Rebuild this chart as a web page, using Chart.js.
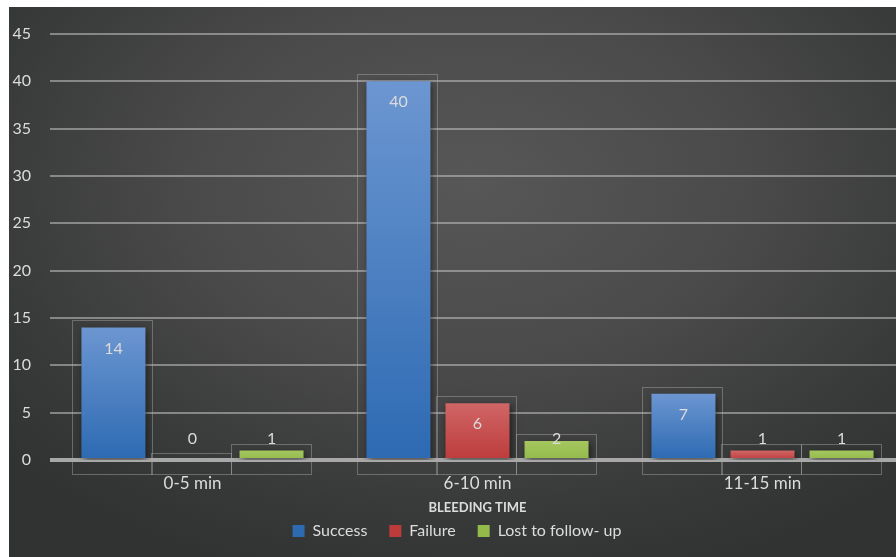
<!DOCTYPE html>
<html>
<head>
<meta charset="utf-8">
<script src="https://cdn.jsdelivr.net/npm/chart.js@4.4.0/dist/chart.umd.min.js"></script>
<style>
  html, body { margin: 0; padding: 0; background: #fff; overflow: hidden; width: 896px; height: 557px; }
  #fundo {
    position: absolute; left: 9px; top: 7px; width: 887px; height: 550px; overflow: hidden;
    background: radial-gradient(ellipse 70% 75% at 52% 32%, #575757 0%, #4a4a4a 45%, #383939 80%, #313232 100%);
  }
  #wrap { position: absolute; left: 0; top: 0; width: 896px; height: 550px; }
</style>
</head>
<body>
<div id="fundo">
  <div id="wrap"><canvas id="grafico"></canvas></div>
</div>
<script>
// dados
const categorias = ['0-5 min', '6-10 min', '11-15 min'];
const sucesso = [14, 40, 7];
const falha = [0, 6, 1];
const perdidos = [1, 2, 1];
const ticksY = [0, 5, 10, 15, 20, 25, 30, 35, 40, 45];

const FONTE = "Lato, 'Open Sans', sans-serif";
const TEXTO = '#dcdcdc';

// gradiente vertical por barra (claro em cima, escuro embaixo)
function gradiente(topo, base) {
  return ctx => {
    const chart = ctx.chart;
    const y = chart.scales && chart.scales.y;
    if (!chart.chartArea || !y || ctx.raw === undefined) return base;
    const yTopo = y.getPixelForValue(ctx.raw);
    const yBase = y.getPixelForValue(0);
    if (Math.abs(yBase - yTopo) < 1) return base;
    const g = chart.ctx.createLinearGradient(0, yTopo, 0, yBase);
    g.addColorStop(0, topo);
    g.addColorStop(1, base);
    return g;
  };
}

// sombra das barras
const sombra = {
  id: 'sombra',
  beforeDatasetsDraw(chart) {
    const c = chart.ctx;
    c.save();
    c.shadowColor = 'rgba(0,0,0,0.55)';
    c.shadowBlur = 7;
    c.shadowOffsetX = 2;
    c.shadowOffsetY = 3;
  },
  afterDatasetsDraw(chart) {
    chart.ctx.restore();
  }
};

// caixinhas de seleção + rótulos de valor
const rotulos = {
  id: 'rotulos',
  afterDatasetsDraw(chart) {
    const c = chart.ctx;
    const base = chart.scales.y.getPixelForValue(0);
    c.save();
    chart.data.datasets.forEach((ds, i) => {
      chart.getDatasetMeta(i).data.forEach((bar, j) => {
        const w = bar.width;
        c.strokeStyle = 'rgba(170,170,170,0.45)';
        c.lineWidth = 1;
        c.strokeRect(Math.round(bar.x - w / 2 - 9) + 0.5, Math.round(bar.y - 7) + 0.5,
                     Math.round(w + 16), Math.round(base + 14 - (bar.y - 7)));
        c.fillStyle = TEXTO;
        c.font = '16px ' + FONTE;
        c.textAlign = 'center';
        c.textBaseline = 'middle';
        const yTxt = Math.min(bar.y + 21, base - 21);
        c.fillText(String(ds.data[j]), bar.x, yTxt);
      });
    });
    c.restore();
  }
};

new Chart(document.getElementById('grafico'), {
  type: 'bar',
  data: {
    labels: categorias,
    datasets: [
      { label: 'Success', data: sucesso, backgroundColor: gradiente('#6c96d1', '#2d6ab2') },
      { label: 'Failure', data: falha, backgroundColor: gradiente('#d06666', '#bd3b3b') },
      { label: 'Lost to follow- up', data: perdidos, backgroundColor: gradiente('#a4c75f', '#93ba4b') }
    ]
  },
  options: {
    responsive: true,
    maintainAspectRatio: false,
    animation: false,
    layout: { padding: { top: 27, right: 0, left: 0, bottom: 8 } },
    datasets: { bar: { categoryPercentage: 0.832, barPercentage: 0.81, borderWidth: 0 } },
    scales: {
      x: {
        afterFit: s => { s.height = 41; },
        grid: { display: false, drawTicks: false },
        border: { display: false },
        ticks: { color: TEXTO, font: { family: FONTE, size: 17 }, padding: 13 },
        title: { display: true, text: 'BLEEDING TIME', color: TEXTO, font: { family: FONTE, size: 13, weight: 'bold' }, padding: { top: 0, bottom: -15 } }
      },
      y: {
        min: 0, max: 45,
        afterFit: s => { s.width = 41; s.paddingTop = 0; },
        afterBuildTicks: s => { s.ticks = ticksY.map(v => ({ value: v })); },
        border: { display: false },
        grid: {
          drawTicks: false,
          color: ctx => ctx.index === 0 ? '#a8a8a8' : 'rgba(185,185,185,0.6)',
          lineWidth: ctx => ctx.index === 0 ? 4 : 2
        },
        ticks: { color: TEXTO, font: { family: FONTE, size: 16 }, padding: 19 }
      }
    },
    plugins: {
      legend: {
        position: 'bottom',
        labels: { color: TEXTO, font: { family: FONTE, size: 16 }, boxWidth: 12, boxHeight: 12, padding: 22 }
      },
      tooltip: { enabled: false }
    }
  },
  plugins: [sombra, rotulos]
});
</script>
</body>
</html>
